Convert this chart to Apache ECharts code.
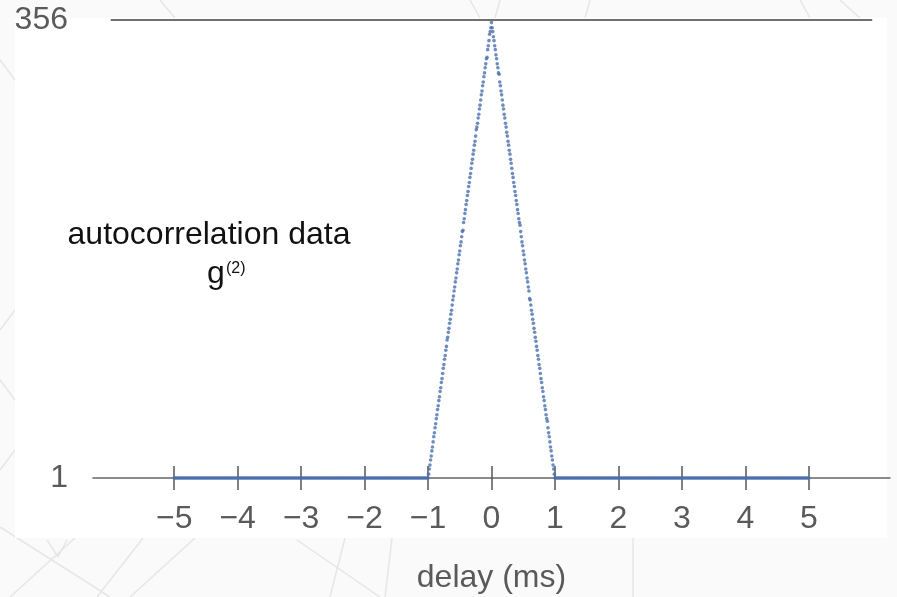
<!DOCTYPE html>
<html>
<head>
<meta charset="utf-8">
<script src="https://cdn.jsdelivr.net/npm/echarts@6/dist/echarts.min.js"></script>
<style>
html,body{margin:0;padding:0;background:#fafafa;}
#chart{width:897px;height:597px;}
</style>
</head>
<body>
<div id="chart"></div>
<script>
// ---- data ----
const xTickValues = [-5, -4, -3, -2, -1, 0, 1, 2, 3, 4, 5];
const yTickValues = [1, 356];
const xAxisName = 'delay (ms)';
const seriesLabel = 'autocorrelation data';

// baseline g2 values, delays -5.00 .. -1.02 (step 0.02)
const baselineLeftStart = -5.00;
const baselineStep = 0.02;
const baselineLeft = [
1,1,1,1,1,1,1,1,1,1,1,1,1,1,1,1,1,1,1,1,
1,1,1,1,1,1,1,1,1,1,1,1,1,1,1,1,1,1,1,1,
1,1,1,1,1,1,1,1,1,1,1,1,1,1,1,1,1,1,1,1,
1,1,1,1,1,1,1,1,1,1,1,1,1,1,1,1,1,1,1,1,
1,1,1,1,1,1,1,1,1,1,1,1,1,1,1,1,1,1,1,1,
1,1,1,1,1,1,1,1,1,1,1,1,1,1,1,1,1,1,1,1,
1,1,1,1,1,1,1,1,1,1,1,1,1,1,1,1,1,1,1,1,
1,1,1,1,1,1,1,1,1,1,1,1,1,1,1,1,1,1,1,1,
1,1,1,1,1,1,1,1,1,1,1,1,1,1,1,1,1,1,1,1,
1,1,1,1,1,1,1,1,1,1,1,1,1,1,1,1,1,1,1,1
];

// peak g2 values, delays -1.00 .. 1.00 (step 0.01)
const peakStart = -1.00;
const peakStep = 0.01;
const peakValues = [
1,4,8,11,15,18,22,25,29,33,
36,40,43,47,50,54,57,61,64,68,
71,75,78,82,86,89,93,96,100,103,
108,110,114,117,121,124,128,131,135,139,
142,146,149,153,156,160,163,167,170,174,
177,181,184,188,192,193,199,202,206,209,
213,216,220,223,227,230,234,237,241,245,
248,252,255,259,262,266,271,273,276,280,
283,287,290,294,298,301,305,308,312,315,
319,322,326,327,333,336,340,345,347,350,
354,
350,347,343,340,336,333,329,326,322,319,
315,314,308,305,301,298,294,290,287,283,
280,276,273,269,266,262,259,255,252,248,
245,241,237,234,230,227,223,220,216,213,
209,206,202,199,197,192,188,184,181,177,
174,170,167,163,160,156,153,149,146,140,
139,135,131,128,124,121,117,114,110,107,
103,100,96,93,89,86,82,78,75,71,
68,64,61,57,54,50,47,45,40,36,
33,29,25,22,18,15,11,8,4,1
];

// baseline g2 values, delays 1.02 .. 5.00 (step 0.02)
const baselineRightStart = 1.02;
const baselineRight = [
1,1,1,1,1,1,1,1,1,1,1,1,1,1,1,1,1,1,1,1,
1,1,1,1,1,1,1,1,1,1,1,1,1,1,1,1,1,1,1,1,
1,1,1,1,1,1,1,1,1,1,1,1,1,1,1,1,1,1,1,1,
1,1,1,1,1,1,1,1,1,1,1,1,1,1,1,1,1,1,1,1,
1,1,1,1,1,1,1,1,1,1,1,1,1,1,1,1,1,1,1,1,
1,1,1,1,1,1,1,1,1,1,1,1,1,1,1,1,1,1,1,1,
1,1,1,1,1,1,1,1,1,1,1,1,1,1,1,1,1,1,1,1,
1,1,1,1,1,1,1,1,1,1,1,1,1,1,1,1,1,1,1,1,
1,1,1,1,1,1,1,1,1,1,1,1,1,1,1,1,1,1,1,1,
1,1,1,1,1,1,1,1,1,1,1,1,1,1,1,1,1,1,1,1
];

// ---- build ----
const points = [];
baselineLeft.forEach((v, i) => points.push([+(baselineLeftStart + i * baselineStep).toFixed(2), v]));
peakValues.forEach((v, i) => points.push([+(peakStart + i * peakStep).toFixed(2), v]));
baselineRight.forEach((v, i) => points.push([+(baselineRightStart + i * baselineStep).toFixed(2), v]));

const FONT = '"Liberation Sans", Arial, Helvetica, sans-serif';
const GRAY = '#5a5a5a';
const DECO = '#e6e6e6';

function decoLine(x1, y1, x2, y2) {
  return { type: 'line', z: -20, silent: true,
    shape: { x1, y1, x2, y2 }, style: { stroke: DECO, lineWidth: 1.5 } };
}

const chart = echarts.init(document.getElementById('chart'), null, { renderer: 'canvas' });
chart.setOption({
  backgroundColor: '#fafafa',
  animation: false,
  grid: { left: 93, right: 7, top: 20, bottom: 119, containLabel: false, outerBoundsMode: 'none' },
  xAxis: [{
    type: 'value', min: -6.28, max: 6.28,
    name: xAxisName, nameLocation: 'middle', nameGap: 84,
    nameTextStyle: { fontSize: 32, color: GRAY, fontFamily: FONT },
    axisLine: { show: true, onZero: false, lineStyle: { color: '#666', width: 1.5 } },
    axisTick: { show: true, customValues: xTickValues, length: 12, lineStyle: { color: '#555', width: 1.5 } },
    axisLabel: { show: true, customValues: xTickValues, margin: 25, fontSize: 32, color: GRAY, fontFamily: FONT,
      formatter: v => String(v).replace('-', '\u2212') },
    splitLine: { show: false }
  }, {
    type: 'value', min: -6.28, max: 6.28, position: 'bottom',
    axisLine: { show: false },
    axisTick: { show: true, inside: true, customValues: xTickValues, length: 12, lineStyle: { color: '#555', width: 1.5 } },
    axisLabel: { show: false },
    splitLine: { show: false }
  }],
  yAxis: {
    type: 'value', min: 1, max: 356,
    axisLine: { show: false }, axisTick: { show: false }, splitLine: { show: false },
    axisLabel: { show: true, customValues: yTickValues, margin: 25, fontSize: 32, color: GRAY, fontFamily: FONT }
  },
  series: [{
    type: 'scatter',
    name: seriesLabel,
    data: points,
    symbol: 'circle',
    symbolSize: 3.6,
    clip: false,
    itemStyle: { color: '#4a6fad' },
    z: 5,
    markLine: {
      silent: true, symbol: 'none', animation: false,
      label: { show: false },
      lineStyle: { color: '#707070', width: 2, type: 'solid' },
      data: [[{ coord: [-6, 356] }, { coord: [6, 356] }]]
    }
  }],
  graphic: {
    elements: [
      decoLine(0, 527, 110, 597),
      decoLine(10, 597, 75, 538),
      decoLine(47, 540, 58, 557),
      decoLine(58, 557, 67, 540),
      decoLine(97, 597, 143, 538),
      decoLine(130, 597, 195, 538),
      decoLine(297, 540, 380, 597),
      decoLine(330, 597, 345, 538),
      decoLine(385, 597, 392, 538),
      decoLine(633, 538, 633, 597),
      decoLine(0, 60, 15, 80),
      decoLine(0, 330, 15, 310),
      decoLine(0, 380, 15, 400),
      decoLine(0, 470, 15, 450),
      decoLine(160, 0, 175, 18),
      decoLine(470, 0, 480, 18),
      decoLine(500, 0, 495, 18),
      decoLine(590, 0, 585, 18),
      decoLine(800, 0, 810, 18),
      decoLine(840, 0, 860, 18),
      { type: 'rect', z: -10, silent: true, shape: { x: 15, y: 18, width: 872, height: 520 }, style: { fill: '#ffffff' } },
      { type: 'text', z: 10, x: 209, y: 235, style: { text: seriesLabel, font: '32px ' + FONT, fill: '#111', align: 'center', verticalAlign: 'middle' } },
      { type: 'text', z: 10, x: 207, y: 274, style: { text: 'g', font: '32px ' + FONT, fill: '#111', align: 'left', verticalAlign: 'middle' } },
      { type: 'text', z: 10, x: 226, y: 269, style: { text: '(2)', font: '16px ' + FONT, fill: '#111', align: 'left', verticalAlign: 'middle' } }
    ]
  }
});
</script>
</body>
</html>
